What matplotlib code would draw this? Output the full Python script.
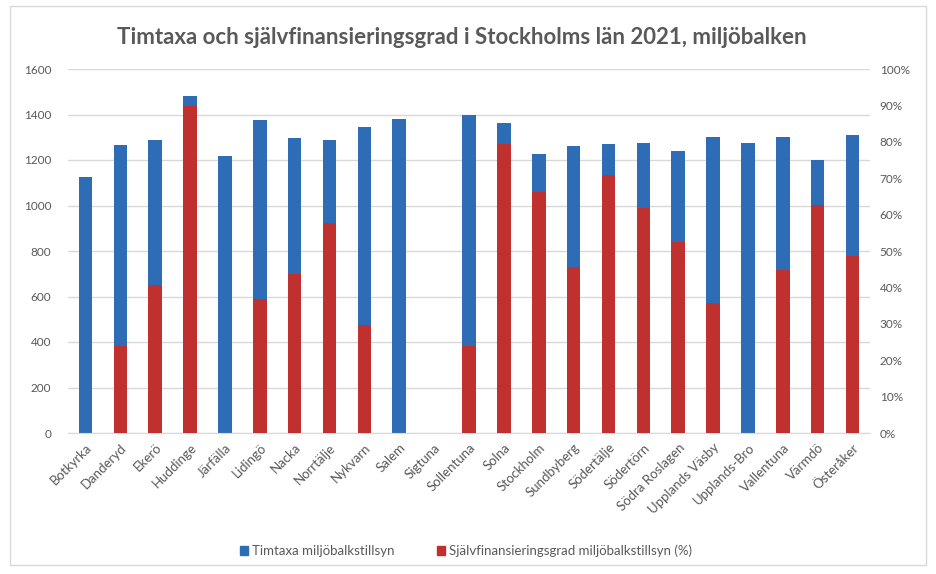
import matplotlib
matplotlib.use("Agg")
import matplotlib.pyplot as plt
from matplotlib.patches import Rectangle
import numpy as np

plt.rcParams['font.family'] = ['Lato', 'DejaVu Sans']

kommuner = ["Botkyrka", "Danderyd", "Ekerö", "Huddinge", "Järfälla", "Lidingö",
            "Nacka", "Norrtälje", "Nykvarn", "Salem", "Sigtuna", "Sollentuna",
            "Solna", "Stockholm", "Sundbyberg", "Södertälje", "Södertörn",
            "Södra Roslagen", "Upplands Väsby", "Upplands-Bro", "Vallentuna",
            "Värmdö", "Österåker"]
timtaxa = [1124, 1267, 1289, 1480, 1219, 1377, 1295, 1286, 1345, 1379, np.nan, 1398,
           1363, 1228, 1260, 1272, 1275, 1240, 1301, 1275, 1301, 1198, 1310]
sjalvfin = [np.nan, 24.0, 40.7, 89.7, np.nan, 36.8, 43.8, 57.7, 29.8, np.nan, np.nan, 24.0,
            79.5, 66.1, 45.6, 70.9, 61.9, 52.4, 35.7, np.nan, 44.7, 62.6, 48.7]

left_ticks = [0, 200, 400, 600, 800, 1000, 1200, 1400, 1600]
right_ticks = [0, 10, 20, 30, 40, 50, 60, 70, 80, 90, 100]

blue = "#2E6CB5"
red = "#C0302F"
txt = "#595959"

fig = plt.figure(figsize=(9.37, 5.74), dpi=100)
fig.patches.append(Rectangle((10/937, 1-565/574), 916/937, 559/574, transform=fig.transFigure,
                             fill=False, edgecolor="#D9D9D9", linewidth=1))

W, H = 937, 574
x0, x1 = 68, 870
y0, y1 = 433, 69
ax = fig.add_axes([x0/W, 1-y0/H, (x1-x0)/W, (y0-y1)/H])
ax2 = ax.twinx()

x = np.arange(len(kommuner))
bw = 0.39
ax.bar(x, timtaxa, width=bw, color=blue, zorder=2)
ax2.bar(x, sjalvfin, width=bw, color=red, zorder=2)

ax.set_ylim(0, 1600)
ax2.set_ylim(0, 100)
ax.set_xlim(-0.5, len(kommuner) - 0.5)
ax.set_yticks(left_ticks)
ax2.set_yticks(right_ticks)
ax2.set_yticklabels([f"{v}%" for v in right_ticks])
ax.yaxis.grid(True, color="#D9D9D9", linewidth=1, zorder=0)
ax.set_axisbelow(True)

for a in (ax, ax2):
    for s in a.spines.values():
        s.set_visible(False)
    a.tick_params(axis='both', length=0, colors=txt, labelsize=8.5)
ax.spines['bottom'].set_visible(True)
ax.spines['bottom'].set_color("#D9D9D9")
ax.tick_params(axis='y', pad=12)
ax2.tick_params(axis='y', pad=7)

ax.set_xticks(x)
ax.set_xticklabels(kommuner, rotation=45, ha='right', rotation_mode='anchor', fontsize=9.5, color=txt)
ax.tick_params(axis='x', pad=6)

fig.text(462/W, 1-38/H, "Timtaxa och självfinansieringsgrad i Stockholms län 2021, miljöbalken",
         ha='center', va='center', fontsize=16, fontweight='bold', color=txt)

handles = [Rectangle((0, 0), 1, 1, color=blue), Rectangle((0, 0), 1, 1, color=red)]
fig.legend(handles, ["Timtaxa miljöbalkstillsyn", "Självfinansieringsgrad miljöbalkstillsyn (%)"],
           loc='center', bbox_to_anchor=(466/W, 1-551/H), ncol=2, frameon=False,
           fontsize=9.5, handlelength=0.6, handleheight=0.6, columnspacing=3.2, handletextpad=0.3,
           labelcolor=txt)

fig.savefig("out.png", dpi=100)
